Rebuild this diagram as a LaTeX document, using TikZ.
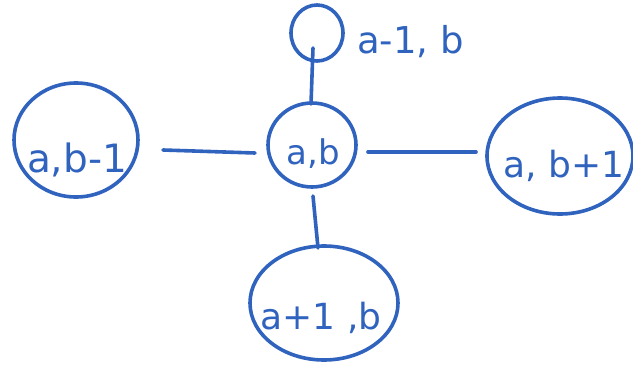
\documentclass[tikz,border=0pt]{standalone}
\usepackage{fontspec}
\setmainfont{DejaVu Sans}
\usetikzlibrary{shapes.geometric}
\definecolor{ink}{RGB}{47,99,190}
\begin{document}
\begin{tikzpicture}[x=1pt,y=-1pt,
  inkline/.style={draw=ink,line width=3.6pt,line cap=round,line join=round},
  blob/.style={inkline,ellipse,inner sep=0pt},
  lbl/.style={text=ink,inner sep=0pt}]
\useasboundingbox (0,0) rectangle (633,367);
\node[blob,minimum width=124,minimum height=114] (L) at (76,140) {};
\node[blob,minimum width=88,minimum height=84] (C) at (312,145) {};
\node[blob,minimum width=146,minimum height=116] (R) at (560,156) {};
\node[blob,minimum width=148,minimum height=114] (B) at (324,303) {};
\node[blob,minimum width=52,minimum height=56] (T) at (317,33) {};
\node[lbl,font=\fontsize{39}{39}\selectfont] (Lt) at (77,160) {a,b-1};
\node[lbl,font=\fontsize{34}{34}\selectfont] (Ct) at (313,154) {a,b};
\node[lbl,font=\fontsize{36}{36}\selectfont] (Rt) at (564,166) {a, b+1};
\node[lbl,font=\fontsize{36}{36}\selectfont] (Bt) at (321,318) {a+1 ,b};
\node[lbl,anchor=west,font=\fontsize{37}{37}\selectfont] (Tt) at (357,42) {a-1, b};
\coordinate (l1) at (163,150);
\coordinate (l2) at (255,153);
\coordinate (r1) at (368,152);
\coordinate (r2) at (476,152);
\coordinate (t1) at (313,48);
\coordinate (t2) at (311,104);
\coordinate (b1) at (313,196);
\coordinate (b2) at (318,248);
\draw[inkline] (l1) -- (l2);
\draw[inkline] (r1) -- (r2);
\draw[inkline] (t1) -- (t2);
\draw[inkline] (b1) -- (b2);
\end{tikzpicture}
\end{document}
